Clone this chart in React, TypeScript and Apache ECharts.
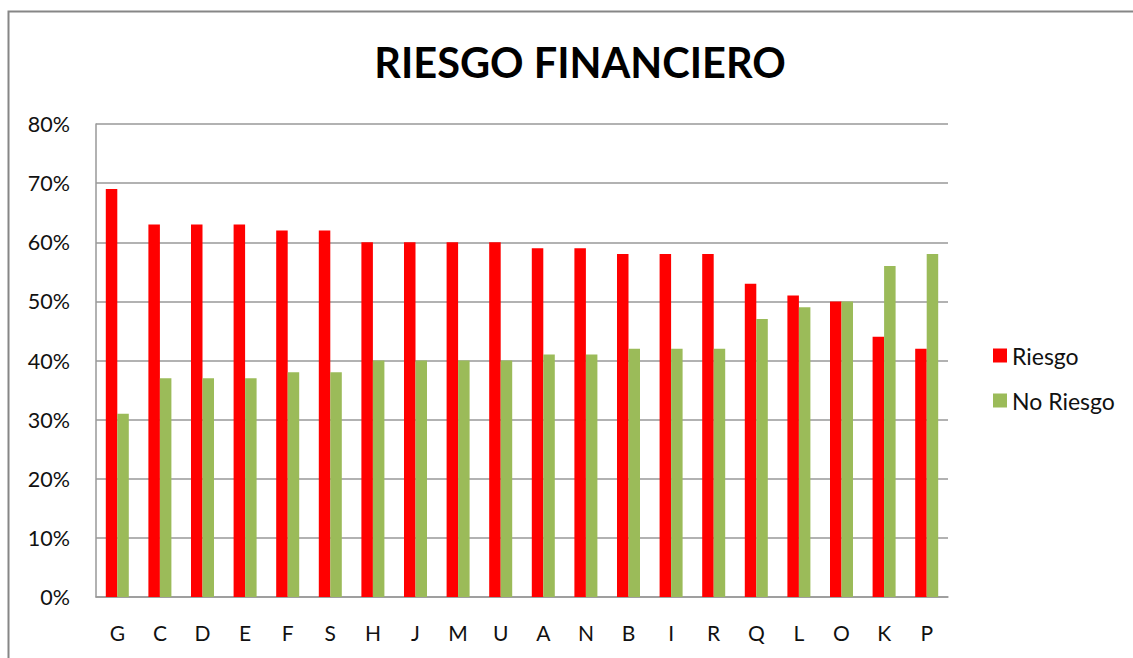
import React, { useEffect, useRef } from "react";
import * as echarts from "echarts";

const categories = ["G", "C", "D", "E", "F", "S", "H", "J", "M", "U", "A", "N", "B", "I", "R", "Q", "L", "O", "K", "P"];
const riesgo = [69, 63, 63, 63, 62, 62, 60, 60, 60, 60, 59, 59, 58, 58, 58, 53, 51, 50, 44, 42];
const noRiesgo = [31, 37, 37, 37, 38, 38, 40, 40, 40, 40, 41, 41, 42, 42, 42, 47, 49, 50, 56, 58];
const seriesNames = ["Riesgo", "No Riesgo"];

export default function App() {
  const ref = useRef<HTMLDivElement>(null);
  useEffect(() => {
    document.body.style.margin = "0";
    const chart = echarts.init(ref.current!, null, { renderer: "svg" });
    const font = "Lato, 'Open Sans', sans-serif";
    chart.setOption({
      animation: false,
      backgroundColor: "#ffffff",
      title: {
        text: "RIESGO FINANCIERO",
        left: 575,
        top: 36,
        textAlign: "center",
        textStyle: { fontFamily: font, fontWeight: "bold", fontSize: 41.5, color: "#000" },
      },
      graphic: [
        {
          type: "rect",
          shape: { x: 8.5, y: 11.5, width: 1140, height: 660 },
          style: { fill: "none", stroke: "#868686", lineWidth: 2 },
          silent: true,
        },
      ],
      legend: {
        orient: "vertical",
        left: 988,
        top: 339,
        itemWidth: 14,
        itemHeight: 14,
        itemGap: 22,
        icon: "rect",
        data: seriesNames,
        textStyle: { fontFamily: font, fontSize: 23, color: "#111", padding: [0, 0, 0, 0] },
      },
      grid: { left: 96, right: 185, top: 124, bottom: 61, containLabel: false },
      xAxis: {
        type: "category",
        data: categories,
        axisTick: { show: false },
        axisLine: { lineStyle: { color: "#999", width: 1.5 } },
        axisLabel: { fontFamily: font, fontSize: 21, color: "#111", margin: 25 },
      },
      yAxis: {
        type: "value",
        min: 0,
        max: 80,
        interval: 10,
        axisLine: { show: true, lineStyle: { color: "#999", width: 1.5 } },
        axisTick: { show: false },
        splitLine: { lineStyle: { color: "#999", width: 1.5 } },
        axisLabel: { fontFamily: font, fontSize: 21.5, color: "#111", margin: 26, formatter: "{value}%" },
      },
      series: [
        {
          name: seriesNames[0],
          type: "bar",
          data: riesgo,
          itemStyle: { color: "#FF0000" },
          barGap: "0%",
          barCategoryGap: "46%",
        },
        {
          name: seriesNames[1],
          type: "bar",
          data: noRiesgo,
          itemStyle: { color: "#9BBB59" },
          barGap: "0%",
          barCategoryGap: "46%",
        },
      ],
    });
    return () => chart.dispose();
  }, []);
  return <div ref={ref} style={{ position: "fixed", left: 0, top: 0, width: 1133, height: 658 }} />;
}
